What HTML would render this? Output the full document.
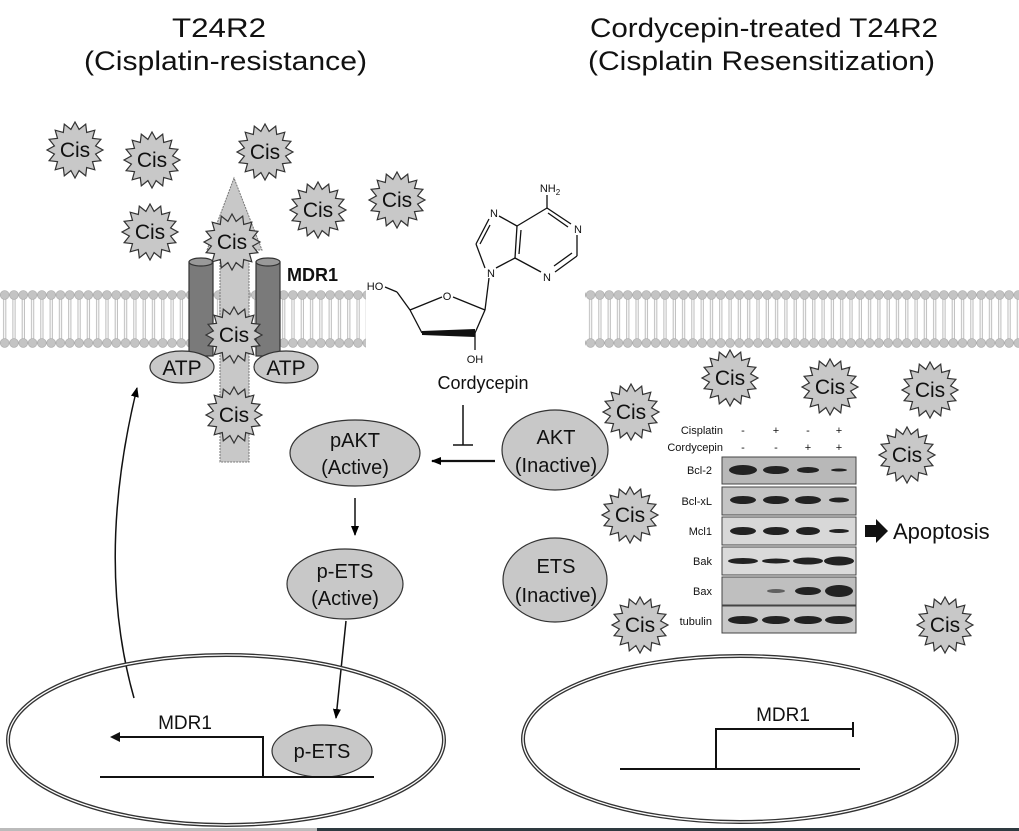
<!DOCTYPE html>
<html><head><meta charset="utf-8"><style>
html,body{margin:0;padding:0;background:#fff}
svg{display:block;font-family:"Liberation Sans",Arial,sans-serif}
</style></head><body>
<svg width="1019" height="831" viewBox="0 0 1019 831" xmlns="http://www.w3.org/2000/svg">
<defs>
<pattern id="mem" x="0" y="289" width="9.3" height="60" patternUnits="userSpaceOnUse">
<line x1="3.6" y1="9" x2="3.6" y2="51" stroke="#bbb" stroke-width="1"/>
<line x1="5.8" y1="9" x2="5.8" y2="51" stroke="#bbb" stroke-width="1"/>
<circle cx="4.65" cy="6" r="4.4" fill="#c4c4c4" stroke="#aaa" stroke-width="0.6"/>
<circle cx="4.65" cy="54" r="4.4" fill="#c4c4c4" stroke="#aaa" stroke-width="0.6"/>
</pattern>
<polygon id="star" points="28,0 20.6,4.1 25.9,10.7 17.5,11.7 19.8,19.8 11.7,17.5 10.7,25.9 4.1,20.6 0,28 -4.1,20.6 -10.7,25.9 -11.7,17.5 -19.8,19.8 -17.5,11.7 -25.9,10.7 -20.6,4.1 -28,0 -20.6,-4.1 -25.9,-10.7 -17.5,-11.7 -19.8,-19.8 -11.7,-17.5 -10.7,-25.9 -4.1,-20.6 0,-28 4.1,-20.6 10.7,-25.9 11.7,-17.5 19.8,-19.8 17.5,-11.7 25.9,-10.7 20.6,-4.1" fill="#c8c8c8" stroke="#333" stroke-width="1.2"/>
<marker id="ah" markerWidth="10" markerHeight="8" refX="9" refY="4" orient="auto" markerUnits="userSpaceOnUse"><path d="M0,0 L10,4 L0,8 z" fill="#000"/></marker>
</defs>
<rect width="1019" height="831" fill="#fff"/>
<!-- titles -->
<g font-size="27" fill="#111">
<text x="172" y="37" textLength="94" lengthAdjust="spacingAndGlyphs">T24R2</text>
<text x="84" y="70" textLength="283" lengthAdjust="spacingAndGlyphs">(Cisplatin-resistance)</text>
<text x="590" y="37" textLength="348" lengthAdjust="spacingAndGlyphs">Cordycepin-treated T24R2</text>
<text x="588" y="70" textLength="347" lengthAdjust="spacingAndGlyphs">(Cisplatin Resensitization)</text>
</g>
<!-- membranes -->
<rect x="0" y="289" width="366" height="60" fill="url(#mem)"/>
<rect x="585" y="289" width="434" height="60" fill="url(#mem)"/>
<!-- MDR1 pump -->
<path d="M220,462 L220,250 L207,250 L234,178 L262,250 L249,250 L249,462 Z" fill="#c8c8c8" stroke="#777" stroke-width="1" stroke-dasharray="2,1"/>
<g stroke="#333" stroke-width="1.2">
<rect x="189" y="262" width="24" height="94" fill="#7a7a7a"/>
<ellipse cx="201" cy="262" rx="12" ry="4" fill="#999"/>
<rect x="256" y="262" width="24" height="94" fill="#7a7a7a"/>
<ellipse cx="268" cy="262" rx="12" ry="4" fill="#999"/>
<ellipse cx="182" cy="367" rx="32" ry="16" fill="#c8c8c8"/>
<ellipse cx="286" cy="367" rx="32" ry="16" fill="#c8c8c8"/>
</g>
<g font-size="21" text-anchor="middle" fill="#111">
<text x="182" y="375">ATP</text><text x="286" y="375">ATP</text>
</g>
<text x="287" y="281" font-size="18" font-weight="bold" fill="#111">MDR1</text>
<!-- stars -->
<g font-size="21" text-anchor="middle" fill="#111">
<use href="#star" x="75" y="150"/><text x="75" y="157">Cis</text>
<use href="#star" x="152" y="160"/><text x="152" y="167">Cis</text>
<use href="#star" x="265" y="152"/><text x="265" y="159">Cis</text>
<use href="#star" x="150" y="232"/><text x="150" y="239">Cis</text>
<use href="#star" x="318" y="210"/><text x="318" y="217">Cis</text>
<use href="#star" x="397" y="200"/><text x="397" y="207">Cis</text>
<use href="#star" x="232" y="242"/><text x="232" y="249">Cis</text>
<use href="#star" x="234" y="335"/><text x="234" y="342">Cis</text>
<use href="#star" x="234" y="415"/><text x="234" y="422">Cis</text>
<use href="#star" x="631" y="412"/><text x="631" y="419">Cis</text>
<use href="#star" x="730" y="378"/><text x="730" y="385">Cis</text>
<use href="#star" x="830" y="387"/><text x="830" y="394">Cis</text>
<use href="#star" x="930" y="390"/><text x="930" y="397">Cis</text>
<use href="#star" x="907" y="455"/><text x="907" y="462">Cis</text>
<use href="#star" x="630" y="515"/><text x="630" y="522">Cis</text>
<use href="#star" x="640" y="625"/><text x="640" y="632">Cis</text>
<use href="#star" x="945" y="625"/><text x="945" y="632">Cis</text>
</g>
<!-- cordycepin molecule -->
<g stroke="#111" stroke-width="1.3" fill="none">
<line x1="385" y1="287" x2="397" y2="292"/>
<line x1="397" y1="292" x2="410" y2="310"/>
<line x1="410" y1="310" x2="442" y2="297"/>
<line x1="453" y1="297" x2="485" y2="310"/>
<line x1="485" y1="310" x2="475" y2="333"/>
<line x1="410" y1="310" x2="422" y2="333"/>
<line x1="475" y1="333" x2="475" y2="350"/>
<line x1="485" y1="310" x2="489" y2="278"/>
<line x1="485" y1="268" x2="476" y2="244"/>
<line x1="476" y1="244" x2="489" y2="219"/>
<line x1="480" y1="244" x2="490" y2="225"/>
<line x1="499" y1="216" x2="517" y2="226"/>
<line x1="517" y1="226" x2="515" y2="258"/>
<line x1="521" y1="230" x2="519" y2="254"/>
<line x1="515" y1="258" x2="496" y2="268"/>
<line x1="517" y1="226" x2="547" y2="208"/>
<line x1="547" y1="208" x2="571" y2="224"/>
<line x1="548" y1="213" x2="568" y2="227"/>
<line x1="577" y1="235" x2="577" y2="256"/>
<line x1="577" y1="256" x2="555" y2="272"/>
<line x1="572" y1="253" x2="554" y2="266"/>
<line x1="541" y1="272" x2="515" y2="258"/>
<line x1="547" y1="208" x2="547" y2="195"/>
</g>
<path d="M422,331 L475,329 L475,337 L422,335 Z" fill="#111"/>
<g font-size="11" fill="#111" text-anchor="middle">
<text x="375" y="290">HO</text>
<text x="447" y="300">O</text>
<text x="475" y="363">OH</text>
<text x="491" y="277">N</text>
<text x="494" y="217">N</text>
<text x="578" y="233">N</text>
<text x="547" y="281">N</text>
<text x="550" y="192">NH<tspan font-size="8" dy="3">2</tspan></text>
</g>
<text x="483" y="389" font-size="18" text-anchor="middle" fill="#111">Cordycepin</text>
<!-- inhibition -->
<line x1="463" y1="405" x2="463" y2="445" stroke="#111" stroke-width="1.5"/>
<line x1="453" y1="445" x2="473" y2="445" stroke="#111" stroke-width="1.5"/>
<!-- nodes -->
<g stroke="#333" stroke-width="1.2" fill="#c8c8c8">
<ellipse cx="355" cy="453" rx="65" ry="33"/>
<ellipse cx="555" cy="450" rx="53" ry="40"/>
<ellipse cx="345" cy="584" rx="58" ry="35"/>
<ellipse cx="555" cy="580" rx="52" ry="42"/>
</g>
<g font-size="20" text-anchor="middle" fill="#111">
<text x="355" y="447">pAKT</text><text x="355" y="474">(Active)</text>
<text x="556" y="444">AKT</text><text x="556" y="472">(Inactive)</text>
<text x="345" y="578">p-ETS</text><text x="345" y="605">(Active)</text>
<text x="556" y="573">ETS</text><text x="556" y="602">(Inactive)</text>
</g>
<g stroke="#111" stroke-width="2.2" fill="none">
<line x1="495" y1="461" x2="432" y2="461" marker-end="url(#ah)"/>
</g>
<g stroke="#111" stroke-width="1.5" fill="none">
<line x1="355" y1="498" x2="355" y2="535" marker-end="url(#ah)"/>
<line x1="346" y1="621" x2="336" y2="718" marker-end="url(#ah)"/>
<path d="M134,698 Q95,560 137,388" marker-end="url(#ah)"/>
</g>
<!-- nuclei -->
<g fill="none" stroke="#333">
<ellipse cx="226" cy="740" rx="218" ry="85" stroke-width="4"/>
<ellipse cx="226" cy="740" rx="218" ry="85" stroke="#fff" stroke-width="1.3"/>
<ellipse cx="740" cy="739" rx="217" ry="83" stroke-width="4"/>
<ellipse cx="740" cy="739" rx="217" ry="83" stroke="#fff" stroke-width="1.3"/>
</g>
<ellipse cx="322" cy="751" rx="50" ry="26" fill="#c8c8c8" stroke="#333" stroke-width="1.2"/>
<text x="322" y="758" font-size="20" text-anchor="middle" fill="#111">p-ETS</text>
<g stroke="#111" stroke-width="2" fill="none">
<line x1="100" y1="777" x2="374" y2="777"/>
<polyline points="263,777 263,737 112,737"/>
<line x1="620" y1="769" x2="860" y2="769"/>
<polyline points="716,769 716,729 853,729"/>
<line x1="853" y1="722" x2="853" y2="737"/>
</g>
<path d="M110,737 L120,732 L120,742 Z" fill="#111"/>
<g font-size="19" fill="#111" text-anchor="middle">
<text x="185" y="729">MDR1</text>
<text x="783" y="721">MDR1</text>
</g>
<!-- western blot -->
<g font-size="11" fill="#111">
<text x="723" y="434" text-anchor="end">Cisplatin</text>
<text x="723" y="451" text-anchor="end">Cordycepin</text>
<g text-anchor="middle">
<text x="743" y="434">-</text><text x="776" y="434">+</text><text x="808" y="434">-</text><text x="839" y="434">+</text>
<text x="743" y="451">-</text><text x="776" y="451">-</text><text x="808" y="451">+</text><text x="839" y="451">+</text>
</g>
<g text-anchor="end">
<text x="712" y="474">Bcl-2</text>
<text x="712" y="505">Bcl-xL</text>
<text x="712" y="535">Mcl1</text>
<text x="712" y="565">Bak</text>
<text x="712" y="595">Bax</text>
<text x="712" y="625">tubulin</text>
</g>
</g>
<g stroke="#444" stroke-width="1">
<rect x="722" y="457" width="134" height="27" fill="#b8b8b8"/>
<rect x="722" y="487" width="134" height="28" fill="#c4c4c4"/>
<rect x="722" y="517" width="134" height="28" fill="#d8d8d8"/>
<rect x="722" y="547" width="134" height="28" fill="#dadada"/>
<rect x="722" y="577" width="134" height="28" fill="#bfbfbf"/>
<rect x="722" y="606" width="134" height="27" fill="#c8c8c8"/>
</g>
<g fill="#222">
<ellipse cx="743" cy="470" rx="14" ry="5"/><ellipse cx="776" cy="470" rx="13" ry="4"/><ellipse cx="808" cy="470" rx="11" ry="3"/><ellipse cx="839" cy="470" rx="8" ry="1.5"/>
<ellipse cx="743" cy="500" rx="13" ry="4"/><ellipse cx="776" cy="500" rx="13" ry="4"/><ellipse cx="808" cy="500" rx="13" ry="4"/><ellipse cx="839" cy="500" rx="10" ry="2.5"/>
<ellipse cx="743" cy="531" rx="13" ry="4"/><ellipse cx="776" cy="531" rx="13" ry="4"/><ellipse cx="808" cy="531" rx="12" ry="4"/><ellipse cx="839" cy="531" rx="10" ry="2"/>
<ellipse cx="743" cy="561" rx="15" ry="3"/><ellipse cx="776" cy="561" rx="14" ry="2.5"/><ellipse cx="808" cy="561" rx="15" ry="3.5"/><ellipse cx="839" cy="561" rx="15" ry="4.5"/>
<ellipse cx="776" cy="591" rx="9" ry="2" opacity="0.6"/><ellipse cx="808" cy="591" rx="13" ry="4"/><ellipse cx="839" cy="591" rx="14" ry="6"/>
<ellipse cx="743" cy="620" rx="15" ry="4"/><ellipse cx="776" cy="620" rx="14" ry="4"/><ellipse cx="808" cy="620" rx="14" ry="4"/><ellipse cx="839" cy="620" rx="14" ry="4"/>
</g>
<path d="M865,525 L876,525 L876,519 L888,531 L876,543 L876,537 L865,537 Z" fill="#111"/>
<text x="893" y="539" font-size="22" fill="#111">Apoptosis</text>
<!-- bottom strip -->
<rect x="0" y="828" width="317" height="3" fill="#bbb"/>
<rect x="317" y="828" width="702" height="3" fill="#2e3a40"/>
</svg>
</body></html>
